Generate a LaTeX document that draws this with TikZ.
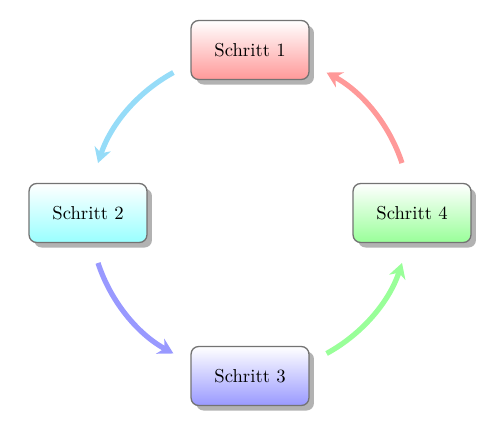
\documentclass[tikz,border=0pt]{standalone}
\usetikzlibrary{shadows,arrows.meta,calc}
\definecolor{arcyan}{RGB}{150,220,248}
\tikzset{
  stepbox/.style={draw=black!55, line width=0.7pt, rounded corners=4pt,
    minimum width=63pt, minimum height=31.5pt,
    top color=white, bottom color=#1!40,
    drop shadow={shadow xshift=2.7pt, shadow yshift=-2.7pt, fill=black!30, opacity=1}},
  arr/.style={draw=#1, line width=2.8pt,
    -{Stealth[length=8pt,width=9pt,inset=2.5pt]}}
}
\begin{document}
\begin{tikzpicture}[x=0.5346pt,y=0.5346pt]
\useasboundingbox (0,0) rectangle (500,428);
\coordinate (c) at (250,215);
\node[stepbox=red]   (n1) at (250,378) {Schritt 1};
\node[stepbox=cyan]  (n2) at (88,215)  {Schritt 2};
\node[stepbox=blue]  (n3) at (250,52)  {Schritt 3};
\node[stepbox=green] (n4) at (412,215) {Schritt 4};
\coordinate (s12) at ($(c)+(118.6:160)$);
\coordinate (s23) at ($(c)+(198.2:160)$);
\coordinate (s34) at ($(c)+(298.6:160)$);
\coordinate (s41) at ($(c)+(18.2:160)$);
\draw[arr=arcyan]   (s12) arc[start angle=118.6, end angle=161.8, radius=160];
\draw[arr=blue!40]  (s23) arc[start angle=198.2, end angle=241.4, radius=160];
\draw[arr=green!40] (s34) arc[start angle=298.6, end angle=341.8, radius=160];
\draw[arr=red!40]   (s41) arc[start angle=18.2, end angle=61.4, radius=160];
\end{tikzpicture}
\end{document}
